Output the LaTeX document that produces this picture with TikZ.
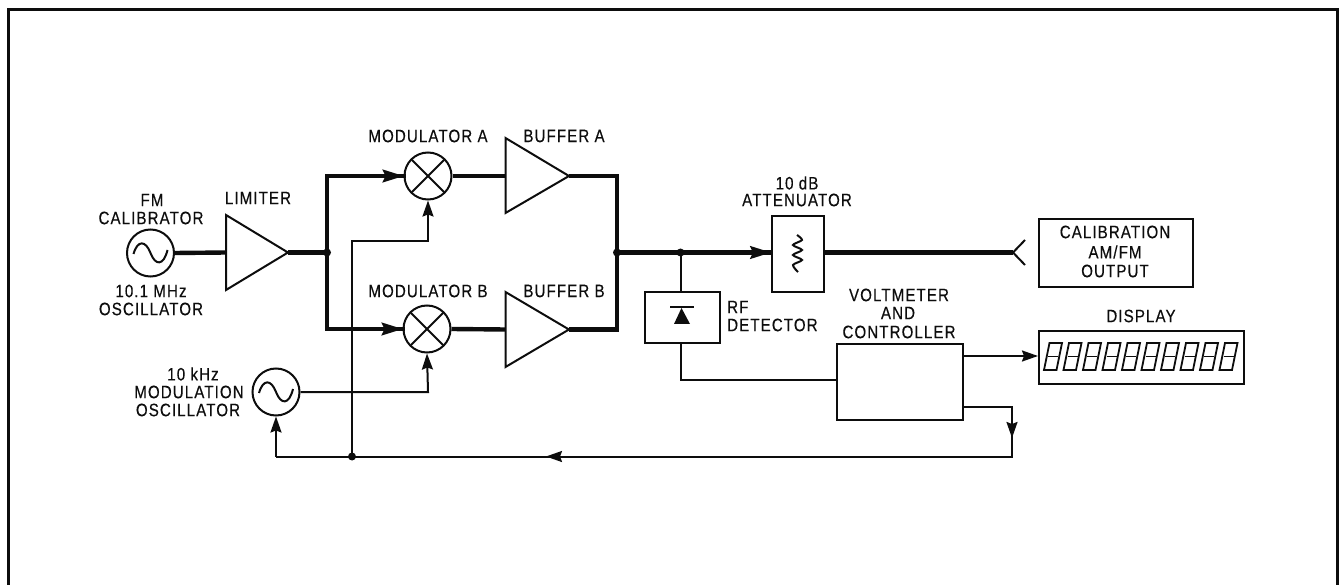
\documentclass[tikz,border=0pt]{standalone}
\usepackage{fontspec}
\setmainfont[FakeStretch=0.84,LetterSpace=6,FakeBold=0.35]{Liberation Sans}
\usetikzlibrary{arrows.meta,calc}
\tikzset{
  thinw/.style={line width=2pt,draw=black!95},
  thickw/.style={line width=4.4pt,draw=black!95},
  lbl/.style={font=\fontsize{18}{19}\selectfont,inner sep=0pt,text=black!95},
  boxn/.style={draw=black!95,line width=2pt,inner sep=0pt,anchor=north west},
  circn/.style={circle,draw=black!95,line width=2pt,inner sep=0pt,minimum size=47pt},
  tip/.style={-{Stealth[length=16pt,width=11pt,inset=2pt]}},
  bigtip/.style={-{Stealth[length=21pt,width=13pt,inset=3pt]}},
  jn/.style={circle,fill=black!95,inner sep=0pt,minimum size=8pt},
  shape1/.style={line width=2pt,draw=black!95,line join=miter},
}
\newcommand{\sinewave}[1]{\draw[line width=2pt,black!95] ($(#1)+(-17,1)$) .. controls ($(#1)+(-13,-13)$) and ($(#1)+(-5,-13)$) .. ($(#1)+(0,0)$) .. controls ($(#1)+(5,13)$) and ($(#1)+(13,13)$) .. ($(#1)+(17,-3)$);}
\newcommand{\crossin}[1]{\draw[line width=2pt,black!95] ($(#1)+(-16,-16)$) -- ($(#1)+(16,16)$) ($(#1)+(-16,16)$) -- ($(#1)+(16,-16)$);}
\begin{document}
\begin{tikzpicture}[x=1pt,y=-1pt]
\useasboundingbox (0,0) rectangle (1339,585);
\draw[line width=3pt,black!95,line join=miter] (8,585) -- (8,10) -- (1337,10) -- (1337,585);
% oscillators and mixers
\node[circn] (fm) at (150.5,253) {};
\node[circn] (mod) at (276,392) {};
\node[circn] (ma) at (428,176) {};
\node[circn] (mb) at (427,329) {};
\sinewave{fm}\sinewave{mod}\crossin{ma}\crossin{mb}
% triangles
\coordinate (limin) at (226,252.5); \coordinate (limout) at (288,252.5);
\draw[shape1] (226,215) -- (limout) -- (226,290) -- cycle;
\coordinate (bain) at (505.5,176); \coordinate (baout) at (569,176);
\draw[shape1] (505.5,138) -- (baout) -- (505.5,213) -- cycle;
\coordinate (bbin) at (505.5,329.5); \coordinate (bbout) at (569,329.5);
\draw[shape1] (505.5,292) -- (bbout) -- (505.5,367) -- cycle;
% boxes
\node[boxn,minimum width=52pt,minimum height=76pt] (att) at (771,215) {};
\node[boxn,minimum width=75pt,minimum height=51pt] (rf) at (644,291) {};
\node[boxn,minimum width=126pt,minimum height=76pt] (vc) at (836,343) {};
\node[boxn,minimum width=154pt,minimum height=68pt,line width=2.4pt] (cal) at (1038,218) {};
\node[boxn,minimum width=205pt,minimum height=53pt,line width=2.4pt] (disp) at (1038,330) {};
% box symbols
\draw[line width=2pt,black!95] plot[smooth] coordinates {(797,235)(802,240)(793,245)(802,250)(793,255)(802,260)(793,265)(798,272)};
\draw[line width=2pt,black!95] (670,307.5) -- (694,307.5);
\fill[black!95] (681.5,308) -- (690,324) -- (674,324) -- cycle;
% display digits
\foreach \i in {0,...,9}{
  \begin{scope}[shift={(1044+19.5*\i,343)}]
    \draw[line width=1.8pt,black!95] (5.5,0) -- (18,0) -- (12.5,27) -- (0,27) -- cycle;
    \draw[line width=1.8pt,black!95] (4,13.5) -- (14,13.5);
  \end{scope}
}
% junctions and free points
\coordinate (j1) at (327,252.5);
\coordinate (cA) at (327,176);
\coordinate (cB) at (327,329);
\coordinate (j2) at (617,252.5);
\coordinate (oA) at (617,176);
\coordinate (oB) at (617,329.5);
\coordinate (j3) at (680.5,252.5);
\coordinate (ant) at (1013,252.5);
\coordinate (fb1) at (1012,407);
\coordinate (fb2) at (1012,456.5);
\coordinate (j4) at (352,456.5);
\coordinate (c1) at (352,241);
\coordinate (c2) at (428,241);
\coordinate (c3) at (428,392);
\coordinate (c4) at (276,456.5);
\coordinate (c5) at (680.5,380);
% thick
\draw[thickw] (fm.east) -- (limin);
\draw[thickw] (limout) -- (j1);
\draw[thickw,line join=miter] (cA) -- (cB);
\draw[thickw,line cap=rect] (cA) -- (ma.west);
\draw[thickw,line cap=rect] (cB) -- (mb.west);
\draw[thickw] (ma.east) -- (bain);
\draw[thickw] (mb.east) -- (bbin);
\draw[thickw,line join=miter] (baout) -- (oA) -- (oB) -- (bbout);
\draw[thickw] (j2) -- (att.west |- j2);
\draw[thickw] (att.east |- j2) -- (ant);
\draw[line width=2pt,black!95] (1025,240) -- (ant) -- (1025,265);
% thick arrowheads
\draw[thinw,bigtip] (cA) ++(40,0) -- (ma.west);
\draw[thinw,bigtip] (cB) ++(40,0) -- (mb.west);
\draw[thinw,bigtip] (j2) ++(100,0) -- (att.west |- j2);
% thin
\draw[thinw] (j3) -- (rf.north -| j3);
\draw[thinw] (rf.south -| j3) -- (c5) -- (vc.west |- c5);
\draw[thinw,tip] (c1 |- j4) -- (c1) -- (c2) -- (ma.south);
\draw[thinw,tip] (mod.east) -- (c3) -- (mb.south);
\draw[thinw,tip] (vc.east |- 0,356) -- (disp.west |- 0,356);
\draw[thinw] (fb1 -| vc.east) -- (fb1) -- (fb2) -- (c4);
\draw[thinw,tip] (fb1) -- (1012,438);
\draw[thinw,tip] (fb2) -- (546,456.5);
\draw[thinw,tip] (c4) -- (mod.south);
\node[jn] at (j1) {};
\node[jn] at (j2) {};
\node[jn] at (j3) {};
\node[jn] at (j4) {};
% labels
\node[lbl] at (152,200) {FM};
\node[lbl] at (151,218) {CALIBRATOR};
\node[lbl] at (258,198) {LIMITER};
\node[lbl] at (151,291) {10.1 MHz};
\node[lbl] at (151,309) {OSCILLATOR};
\node[lbl] at (428,136) {MODULATOR A};
\node[lbl] at (564,136) {BUFFER A};
\node[lbl] at (428,291) {MODULATOR B};
\node[lbl] at (564,291) {BUFFER B};
\node[lbl] at (193,374) {10 kHz};
\node[lbl] at (189,392) {MODULATION};
\node[lbl] at (188,410) {OSCILLATOR};
\node[lbl] at (797,183) {10 dB};
\node[lbl] at (797,200) {ATTENUATOR};
\node[lbl,anchor=west] at (727,307) {RF};
\node[lbl,anchor=west] at (727,325) {DETECTOR};
\node[lbl] at (899,295) {VOLTMETER};
\node[lbl] at (898,313) {AND};
\node[lbl] at (899,332) {CONTROLLER};
\node[lbl] at (1115,232) {CALIBRATION};
\node[lbl] at (1115,252) {AM/FM};
\node[lbl] at (1115,271) {OUTPUT};
\node[lbl] at (1141,316) {DISPLAY};
\end{tikzpicture}
\end{document}
